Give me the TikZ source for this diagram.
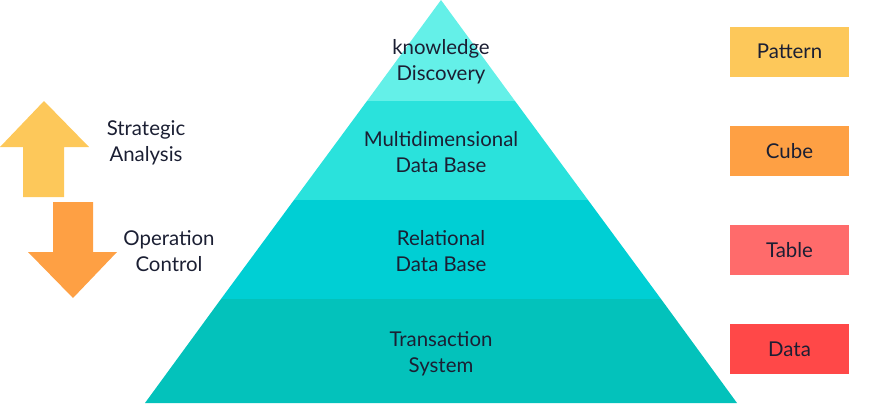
\documentclass[tikz,border=0pt]{standalone}
\usepackage{fontspec}
\setmainfont{Lato}
\definecolor{ink}{HTML}{1B1F33}
\definecolor{bandA}{HTML}{64F0E8}
\definecolor{bandB}{HTML}{2AE2DC}
\definecolor{bandC}{HTML}{00CFD4}
\definecolor{bandD}{HTML}{03C2BB}
\definecolor{patternc}{HTML}{FDC85A}
\definecolor{cubec}{HTML}{FEA044}
\definecolor{tablec}{HTML}{FF6B6B}
\definecolor{datac}{HTML}{FF4848}
\begin{document}
\begin{tikzpicture}[x=1pt,y=-1pt,
  lbl/.style={text=ink,font=\fontsize{20.4}{26}\selectfont,align=center,inner sep=0pt},
  tag/.style={minimum width=119pt,minimum height=50pt,inner sep=0pt,text=ink,font=\fontsize{20.4}{22}\selectfont}]
\useasboundingbox (0,0) rectangle (870,405);
% pyramid layers (apex 441,0; base 145..737 at y=403)
\fill[bandA] (441,0) -- (515,101) -- (367,101) -- cycle;
\fill[bandB] (367,101) -- (515,101) -- (588,200) -- (294,200) -- cycle;
\fill[bandC] (294,200) -- (588,200) -- (661,299) -- (221,299) -- cycle;
\fill[bandD] (221,299) -- (661,299) -- (737,403) -- (145,403) -- cycle;
% layer labels
\node[lbl] (kd) at (441,62) {knowledge\\Discovery};
\node[lbl] (md) at (441,152) {Multidimensional\\Data Base};
\node[lbl] (rd) at (441,251) {Relational\\Data Base};
\node[lbl] (ts) at (441,354) {Transaction\\System};
% direction arrows
\fill[patternc] (44,101) -- (89,147) -- (64,147) -- (64,197) -- (23,197) -- (23,147) -- (0,147) -- cycle;
\fill[cubec] (53,202) -- (93,202) -- (93,252) -- (117,252) -- (73,298) -- (28,252) -- (53,252) -- cycle;
\node[lbl] (sa) at (146,143) {Strategic\\Analysis};
\node[lbl] (oc) at (169,251) {Operation\\Control};
% data forms
\node[tag,fill=patternc] (pt) at (789.5,51.5) {Pattern};
\node[tag,fill=cubec] (cb) at (789.5,151) {Cube};
\node[tag,fill=tablec] (tb) at (789.5,250) {Table};
\node[tag,fill=datac] (dt) at (789.5,349) {Data};
\end{tikzpicture}
\end{document}
